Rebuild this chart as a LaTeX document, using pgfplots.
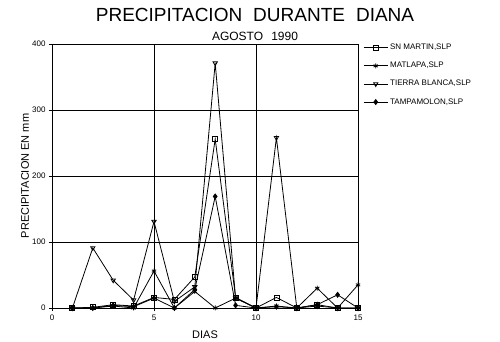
\documentclass[border=0pt]{standalone}
\usepackage{fontspec}
\setmainfont{Liberation Sans}
\usepackage{pgfplots}
\pgfplotsset{compat=1.18}
\begin{document}
\begin{tikzpicture}[x=1pt,y=1pt]
\useasboundingbox (-52,-34) rectangle (448,308);
\begin{axis}[
 at={(0,0)}, anchor=south west,
 scale only axis, width=306pt, height=264pt,
 xmin=0, xmax=15, ymin=0, ymax=400,
 xtick={0,5,10,15}, ytick={0,100,200,300,400},
 xtick pos=bottom, ytick pos=left,
 tick align=center, major tick length=6pt,
 grid=major, major grid style={black, line width=0.6pt},
 axis line style={black, line width=0.8pt},
 tick style={black, line width=0.6pt},
 /pgf/number format/assume math mode=true,
 ticklabel style={font=\fontsize{8}{9}\selectfont},
 xlabel={DIAS}, ylabel={PRECIPITACION EN mm},
 xlabel style={at={(axis description cs:0.5,-0.102)}, anchor=center, font=\fontsize{11}{12}\selectfont},
 ylabel style={at={(axis description cs:-0.088,0.5)}, anchor=center, font=\fontsize{11}{12}\selectfont},
 legend style={at={(1.007,1.015)}, anchor=north west, draw=none, fill=none,
   font=\fontsize{8}{9}\selectfont, row sep=7pt},
 legend cell align=left,
 legend image code/.code={
   \draw[#1] (0pt,0pt) -- (24pt,0pt);
   \draw[#1, only marks] plot coordinates {(12pt,0pt)};
 },
 every axis plot/.append style={black, line width=0.8pt, mark size=2.5pt},
]
\addplot+[black, mark=square, mark options={solid, fill=white}] coordinates {
(1,0) (2,1) (3,5) (4,3) (5,16) (6,13) (7,47) (8,256) (9,16) (10,0) (11,16) (12,0) (13,5) (14,0) (15,0)};
\addlegendentry{SN MARTIN,SLP}
\addplot+[black, mark=asterisk, mark options={solid}] coordinates {
(1,0) (2,0) (3,3) (4,0) (5,56) (6,0) (7,25) (8,0) (9,15) (10,0) (11,3) (12,0) (13,30) (14,0) (15,35)};
\addlegendentry{MATLAPA,SLP}
\addplot+[black, mark=triangle, mark options={solid, rotate=180, fill=white}] coordinates {
(1,0) (2,91) (3,42) (4,12) (5,131) (6,10) (7,32) (8,371) (9,15) (10,0) (11,258) (12,0) (13,3) (14,0) (15,0)};
\addlegendentry{TIERRA BLANCA,SLP}
\addplot+[black, mark=diamond*, mark options={solid, fill=black}] coordinates {
(1,0) (2,0) (3,4) (4,2) (5,15) (6,0) (7,28) (8,169) (9,4) (10,0) (11,2) (12,0) (13,5) (14,20) (15,0)};
\addlegendentry{TAMPAMOLON,SLP}
\end{axis}
\node[font=\fontsize{19}{20}\selectfont] at (203,293) {PRECIPITACION\hspace{0.3em} DURANTE\hspace{0.3em} DIANA};
\node[font=\fontsize{12}{13}\selectfont] at (203,272) {AGOSTO\hspace{0.4em} 1990};
\end{tikzpicture}
\end{document}
